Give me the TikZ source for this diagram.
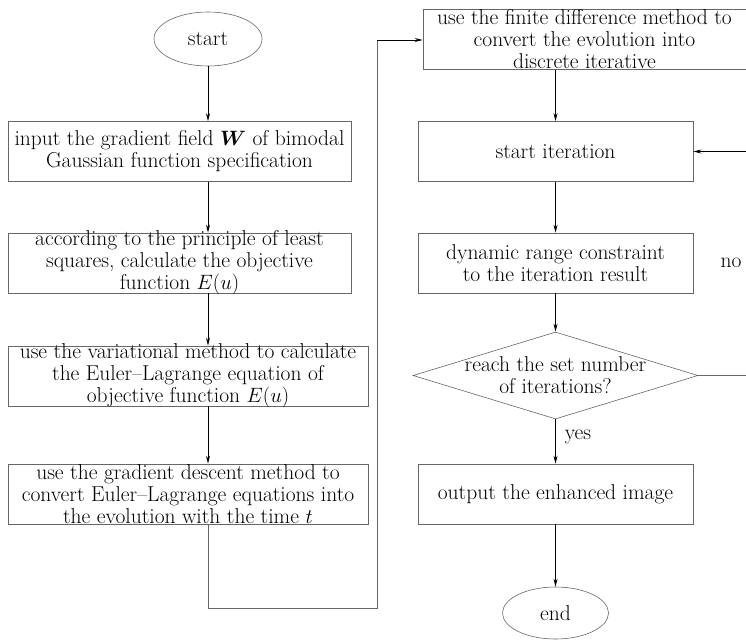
\documentclass[tikz,border=0pt]{standalone}
\usepackage{amsmath}
\usepackage{tikz}
\usetikzlibrary{arrows.meta,shapes.geometric}

\tikzset{
  stepbox/.style={draw=black!60, line width=0.6pt, rectangle, align=center,
    inner xsep=1pt, inner ysep=-2pt, minimum height=60pt},
  endbox/.style={draw=black!60, line width=0.6pt, ellipse, inner sep=0pt},
  flow/.style={line width=0.8pt, -{Stealth[length=8pt,width=4pt]}},
  loopline/.style={draw=black!60, line width=0.8pt}
}

\begin{document}
\begin{tikzpicture}[x=1pt,y=-1pt,font=\fontsize{21.5}{22}\selectfont]
		\useasboundingbox[fill=white] (0,0) rectangle (746,640);

		%% left column
		\node[endbox, minimum width=108pt, minimum height=54pt] (start) at (208,39) {start};
		\node[stepbox, minimum width=343pt] (input) at (179.5,151.5)
		{input the gradient field $\boldsymbol{W}$ of bimodal\\ Gaussian function specification};
		\node[stepbox, minimum width=343pt] (lsq) at (179.5,263)
		{according to the principle of least\\ squares, calculate the objective\\ function $E(u)$};
		\node[stepbox, minimum width=360pt] (euler) at (188,376)
		{use the variational method to calculate\\ the Euler--Lagrange equation of\\ objective function $E(u)$};
		\node[stepbox, minimum width=360pt] (descent) at (188,494)
		{use the gradient descent method to\\ convert Euler--Lagrange equations into\\ the evolution with the time $t$};

		%% right column
		\node[stepbox, minimum width=323pt] (finite) at (584.5,39.5)
		{use the finite difference method to\\ convert the evolution into\\ discrete iterative};
		\node[stepbox, minimum width=275pt] (iter) at (555.5,151.5) {start iteration};
		\node[stepbox, minimum width=275pt] (range) at (555.5,263)
		{dynamic range constraint\\ to the iteration result};
		\node[draw=black!60, line width=0.6pt, diamond, minimum width=285pt,
		  minimum height=87pt, inner sep=0pt] (reach) at (555.5,375.5) {};
		\node[align=center] (reachtext) at (reach.center)
		{reach the set number\\ of iterations?};
		\node[stepbox, minimum width=275pt] (output) at (555.5,494) {output the enhanced image};
		\node[endbox, minimum width=106pt, minimum height=52pt] (end) at (555.5,613) {end};

		% labels
		\node (no) at (731,263) {no};
		\node (yes) at (578,437) {yes};

		% loop coordinates
		\coordinate (bl) at (208,608);
		\coordinate (br) at (377,608);
		\coordinate (tr) at (377,40);
		\coordinate (rr) at (746.5,375.5);
		\coordinate (ru) at (746.5,151.5);

		% left column arrows
		\draw[flow] (start) -- (input.north -| start);
		\draw[flow] (input.south -| start) -- (lsq.north -| start);
		\draw[flow] (lsq.south -| start) -- (euler.north -| start);
		\draw[flow] (euler.south -| start) -- (descent.north -| start);

		% jump to right column
		\draw[loopline] (descent.south -| start) -- (bl) -- (br) -- (tr);
		\draw[flow] (tr) -- (finite.west |- tr);

		% right column arrows
		\draw[flow] (finite.south -| iter) -- (iter);
		\draw[flow] (iter) -- (range);
		\draw[flow] (range) -- (reach);
		\draw[flow] (reach) -- (output);
		\draw[flow] (output) -- (end);

		% no branch
		\draw[loopline] (reach.east) -- (rr) -- (ru);
		\draw[flow] (ru) -- (iter.east);
	\end{tikzpicture}
\end{document}
